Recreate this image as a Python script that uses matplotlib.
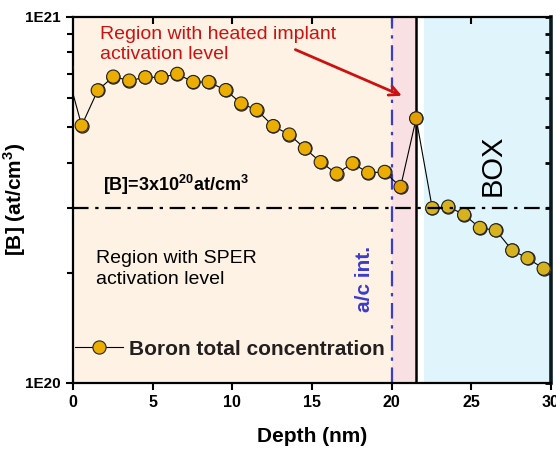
import matplotlib.pyplot as plt
import numpy as np
from matplotlib.ticker import LogLocator, NullFormatter

plt.rcParams['font.family'] = ['Liberation Sans', 'DejaVu Sans']
plt.rcParams['mathtext.fontset'] = 'custom'
plt.rcParams['mathtext.rm'] = 'Liberation Sans'
plt.rcParams['mathtext.bf'] = 'Liberation Sans:bold'

# boron profile (depth in nm, concentration in 1E20 at/cm3)
depth = [-0.45, 0.55, 1.56, 2.53, 3.54, 4.54, 5.55, 6.55, 7.55, 8.52, 9.59,
         10.56, 11.53, 12.57, 13.58, 14.56, 15.55, 16.55, 17.55, 18.53, 19.56,
         20.56, 21.54, 22.55, 23.55, 24.55, 25.54, 26.54, 27.57, 28.53, 29.54]
boron = [7.3, 5.05, 6.3, 6.87, 6.7, 6.84, 6.84, 6.99, 6.64, 6.64, 6.31,
         5.8, 5.57, 5.03, 4.77, 4.37, 4.01, 3.73, 3.98, 3.75, 3.77,
         3.43, 5.28, 3.0, 3.03, 2.88, 2.65, 2.61, 2.30, 2.19, 2.05]
boron = np.array(boron) * 1e20

x_ticks = [0, 5, 10, 15, 20, 25, 30]
y_ticks = [1e20, 1e21]
y_tick_labels = ['1E20', '1E21']

sper_level = 3e20      # [B]=3x10^20
ac_int = 20.0          # a/c interface
heated_end = 21.5      # end of heated implant region
box_start = 22.0       # buried oxide

fig = plt.figure(figsize=(5.56, 4.5), dpi=100)
ax = fig.add_axes([72.9/556, 1-382.7/450, (551-72.9)/556, (382.7-17)/450])

# regions
ax.axvspan(0, ac_int, color='#FDF2E3', zorder=0, lw=0)
ax.axvspan(ac_int, heated_end, color='#F9E1E3', zorder=0, lw=0)
ax.axvspan(box_start, 30, color='#E0F4FC', zorder=0, lw=0)

ax.axvline(heated_end, color='black', lw=1.8, zorder=2)
ax.axvline(ac_int, color='#3B3BCC', lw=1.6, ls=(0, (7, 3, 1.5, 3)), zorder=2)

# profile
def pt_color(x):
    if x < ac_int:
        return '#EAAD00'
    elif x < box_start:
        return '#E29E00'
    return '#D6B21E'

ax.plot(depth, boron, color='black', lw=0.8, marker='o', ms=9.5,
        mfc='#EAAD00', mec='#222222', mew=0.8, zorder=3,
        label='Boron total concentration')
ax.scatter(depth, boron, s=9.5**2, c=[pt_color(d) for d in depth],
           edgecolors='#222222', linewidths=0.8, zorder=4)

ax.axhline(sper_level, color='black', lw=1.6, ls=(0, (7, 3, 1.5, 3)), zorder=5)

ax.set_xlim(0, 30)
ax.set_yscale('log')
ax.set_ylim(1e20, 1e21)
ax.set_xticks(x_ticks)
ax.set_yticks(y_ticks, y_tick_labels)
ax.yaxis.set_minor_locator(LogLocator(base=10, subs=np.arange(2, 10)))
ax.yaxis.set_minor_formatter(NullFormatter())

ax.tick_params(axis='both', which='major', direction='out', length=5, width=1.5,
               labelsize=11.5)
ax.tick_params(axis='y', which='major', labelsize=11)
ax.tick_params(axis='y', which='minor', direction='out', length=4, width=1.5)
for lab in ax.get_xticklabels() + ax.get_yticklabels():
    lab.set_fontweight('bold')

for s in ['left', 'bottom', 'top']:
    ax.spines[s].set_linewidth(1.6)
ax.spines['right'].set_linewidth(2.6)
ax.spines['right'].set_color('#0A1A20')

# inward ticks on top and right
top = ax.secondary_xaxis('top')
top.set_xticks(x_ticks[1:-1])
top.tick_params(direction='in', length=5, width=1.5, labeltop=False)
right = ax.secondary_yaxis('right')
right.set_yticks(y_ticks)
right.yaxis.set_minor_locator(LogLocator(base=10, subs=np.arange(2, 10)))
right.yaxis.set_minor_formatter(NullFormatter())
right.tick_params(which='both', direction='in', length=4, width=2, labelright=False)
for sa in (top, right):
    for s in sa.spines.values():
        s.set_visible(False)

ax.set_xlabel('Depth (nm)', fontsize=15, fontweight='bold')
ax.xaxis.set_label_coords(0.5, -0.122)
ax.set_ylabel('[B] (at/cm$^{\\mathbf{3}}$)', fontsize=15, fontweight='bold')
ax.yaxis.set_label_coords(-0.094, 0.5)

# annotations
ax.text(1.7, 9.45e20, 'Region with heated implant\nactivation level', color='#CC1111',
        fontsize=14, ha='left', va='top', linespacing=1.25, zorder=6)
ax.annotate('', xy=(20.8, 6.05e20), xytext=(13.8, 8.2e20),
            arrowprops=dict(arrowstyle='->,head_length=0.7,head_width=0.35',
                            color='#CC1111', lw=2), zorder=6)
ax.text(1.9, 3.47e20, '[B]=3x10$^{\\mathbf{20}}$at/cm$^{\\mathbf{3}}$', fontsize=13,
        fontweight='bold', ha='left', va='center', zorder=6)
ax.text(1.45, 2.3e20, 'Region with SPER\nactivation level', fontsize=14,
        ha='left', va='top', linespacing=1.25, zorder=6)
ax.text(18.3, 1.92e20, 'a/c int.', color='#3B3BCC', fontsize=15, fontweight='bold',
        rotation=90, ha='center', va='center', zorder=6)
ax.text(26.35, 3.92e20, 'BOX', fontsize=21, rotation=90, ha='center', va='center',
        zorder=6)

leg = ax.legend(loc='center left', bbox_to_anchor=(0.005, 0.092), frameon=False,
                fontsize=15, handlelength=2.3, handletextpad=0.3, borderpad=0,
                borderaxespad=0)
for t in leg.get_texts():
    t.set_fontweight('bold')
    t.set_color('#231F20')
leg.set_zorder(6)

fig.savefig('out.png', dpi=100)
